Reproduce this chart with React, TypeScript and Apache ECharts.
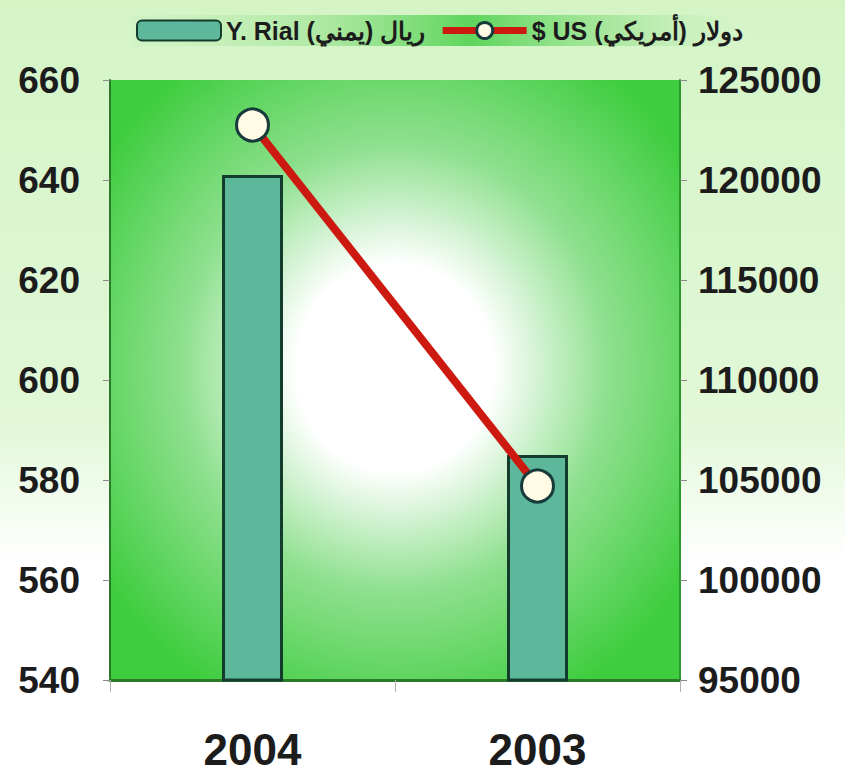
import React, { useEffect, useRef } from "react";
import * as echarts from "echarts";

const categories = ["2004", "2003"];
const rialValues = [641, 585];
const usdValues = [122750, 104700];
const seriesNames = ["Y. Rial (يمني) ريال", "$ US (أمريكي) دولار"];

export default function App() {
  const ref = useRef<HTMLDivElement>(null);
  useEffect(() => {
    if (!ref.current) return;
    const chart = echarts.init(ref.current, null, { renderer: "svg" });
    const axisFont = {
      fontFamily: "Liberation Sans",
      fontWeight: "bold" as const,
      fontSize: 37,
      color: "#1c1c1c",
    };
    chart.setOption({
      animation: false,
      backgroundColor: new echarts.graphic.LinearGradient(0, 0, 0, 1, [
        { offset: 0, color: "#d4f4c6" },
        { offset: 0.55, color: "#e2f8d8" },
        { offset: 0.72, color: "#ffffff" },
        { offset: 1, color: "#ffffff" },
      ]),
      legend: {
        left: 132,
        top: 15,
        itemWidth: 84,
        itemHeight: 20,
        itemGap: 14,
        padding: [3, 4],
        backgroundColor: new echarts.graphic.LinearGradient(0, 0, 1, 0, [
          { offset: 0, color: "rgba(200,240,190,0.3)" },
          { offset: 0.3, color: "rgba(150,225,140,0.6)" },
          { offset: 0.55, color: "rgba(80,210,80,0.9)" },
          { offset: 0.8, color: "rgba(150,225,140,0.6)" },
          { offset: 1, color: "rgba(220,245,210,0.3)" },
        ]),
        textStyle: {
          fontFamily: "Liberation Sans",
          fontWeight: "bold",
          fontSize: 25,
          color: "#1c1c1c",
        },
        data: [
          { name: seriesNames[0] },
          {
            name: seriesNames[1],
            lineStyle: { width: 7, color: "#cc1a10" },
            itemStyle: { color: "#fffbe4", borderColor: "#173a3a", borderWidth: 3 },
          },
        ],
      },
      grid: {
        left: 110,
        right: 165,
        top: 80,
        bottom: 97,
        show: true,
        borderWidth: 0,
        backgroundColor: new echarts.graphic.RadialGradient(0.5, 0.48, 0.62, [
          { offset: 0, color: "#ffffff" },
          { offset: 0.28, color: "#ffffff" },
          { offset: 0.6, color: "#8fe08f" },
          { offset: 1, color: "#3ecd3e" },
        ]),
      },
      xAxis: {
        type: "category",
        data: categories,
        axisLine: { show: true, lineStyle: { color: "#2a7a2a", width: 3 } },
        axisTick: { show: true, length: 12, lineStyle: { color: "#b0b0b0" } },
        axisLabel: { ...axisFont, fontSize: 44, margin: 47 },
      },
      yAxis: [
        {
          type: "value",
          min: 540,
          max: 660,
          interval: 20,
          position: "left",
          splitLine: { show: false },
          axisLine: { show: true, lineStyle: { color: "#2a7a2a", width: 2 } },
          axisTick: { show: true, length: 7, lineStyle: { color: "#8a8a8a" } },
          axisLabel: { ...axisFont, margin: 30 },
        },
        {
          type: "value",
          min: 95000,
          max: 125000,
          interval: 5000,
          position: "right",
          splitLine: { show: false },
          axisLine: { show: true, lineStyle: { color: "#2a9a2a", width: 2 } },
          axisTick: { show: true, length: 7, lineStyle: { color: "#8a8a8a" } },
          axisLabel: {
            ...axisFont,
            margin: 18,
            formatter: (v: number) => String(v),
          },
        },
      ],
      series: [
        {
          name: seriesNames[0],
          type: "bar",
          yAxisIndex: 0,
          data: rialValues,
          barWidth: 61,
          itemStyle: {
            color: "#5db89b",
            borderColor: "#143c2c",
            borderWidth: 3,
          },
        },
        {
          name: seriesNames[1],
          type: "line",
          yAxisIndex: 1,
          data: usdValues,
          symbol: "circle",
          symbolSize: 32,
          lineStyle: { color: "#cc1a10", width: 8 },
          itemStyle: {
            color: "#fffbe4",
            borderColor: "#173a3a",
            borderWidth: 3,
          },
          z: 5,
        },
      ],
    });
    return () => chart.dispose();
  }, []);
  return (
    <div
      ref={ref}
      style={{ position: "fixed", left: 0, top: 0, width: 845, height: 777 }}
    />
  );
}
